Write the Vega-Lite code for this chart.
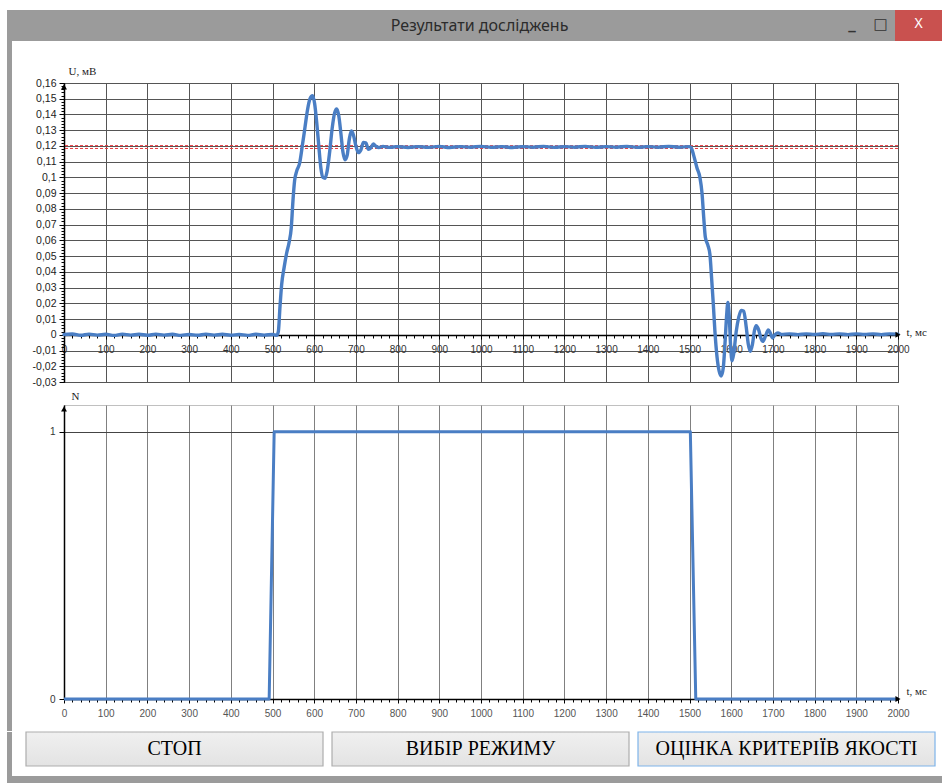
{
  "$schema": "https://vega.github.io/schema/vega-lite/v6.json",
  "padding": {"left": 7, "top": 10, "right": 0, "bottom": 0},
  "background": "white",
  "spacing": 0,
  "config": {"view": {"stroke": null}, "font": "Liberation Sans"},
  "datasets": {
    "sig": [
      {"t":0,"u":0.0002},{"t":20,"u":0.0005},{"t":40,"u":-0.0003},{"t":60,"u":0.0004},{"t":80,"u":-0.0002},
      {"t":100,"u":0.0003},{"t":120,"u":-0.0004},{"t":140,"u":0.0004},{"t":160,"u":-0.0002},{"t":180,"u":0.0003},
      {"t":200,"u":-0.0003},{"t":220,"u":0.0004},{"t":240,"u":-0.0002},{"t":260,"u":0.0003},{"t":280,"u":-0.0004},
      {"t":300,"u":0.0002},{"t":320,"u":-0.0003},{"t":340,"u":0.0004},{"t":360,"u":-0.0002},{"t":380,"u":0.0003},
      {"t":400,"u":-0.0003},{"t":420,"u":0.0002},{"t":440,"u":-0.0004},{"t":460,"u":0.0003},{"t":480,"u":-0.0002},
      {"t":500,"u":0.0002},{"t":510,"u":-0.0004},{"t":514,"u":0.002},{"t":518,"u":0.018},{"t":522,"u":0.032},
      {"t":528,"u":0.043},{"t":534,"u":0.052},{"t":540,"u":0.059},{"t":545,"u":0.068},{"t":549,"u":0.085},
      {"t":553,"u":0.098},{"t":558,"u":0.104},{"t":565,"u":0.109},{"t":572,"u":0.121},{"t":578,"u":0.132},
      {"t":584,"u":0.143},{"t":590,"u":0.150},{"t":596,"u":0.152},{"t":601,"u":0.147},{"t":606,"u":0.135},
      {"t":611,"u":0.120},{"t":616,"u":0.106},{"t":621,"u":0.100},{"t":626,"u":0.0995},{"t":631,"u":0.104},
      {"t":637,"u":0.116},{"t":643,"u":0.131},{"t":649,"u":0.141},{"t":654,"u":0.1435},{"t":659,"u":0.139},
      {"t":664,"u":0.128},{"t":669,"u":0.116},{"t":674,"u":0.1112},{"t":679,"u":0.114},{"t":684,"u":0.124},
      {"t":689,"u":0.1295},{"t":694,"u":0.127},{"t":700,"u":0.120},{"t":706,"u":0.1158},{"t":712,"u":0.1175},
      {"t":718,"u":0.1222},{"t":724,"u":0.122},{"t":730,"u":0.1178},{"t":736,"u":0.1188},{"t":742,"u":0.1212},
      {"t":748,"u":0.1198},{"t":755,"u":0.119},{"t":765,"u":0.1197},{"t":780,"u":0.1191},{"t":800,"u":0.1196},
      {"t":825,"u":0.1190},{"t":850,"u":0.1196},{"t":875,"u":0.1191},{"t":900,"u":0.1197},{"t":925,"u":0.1190},
      {"t":950,"u":0.1196},{"t":975,"u":0.1192},{"t":1000,"u":0.1197},{"t":1025,"u":0.1191},{"t":1050,"u":0.1196},
      {"t":1075,"u":0.1190},{"t":1100,"u":0.1196},{"t":1125,"u":0.1192},{"t":1150,"u":0.1197},{"t":1175,"u":0.1191},
      {"t":1200,"u":0.1196},{"t":1225,"u":0.1192},{"t":1250,"u":0.1197},{"t":1275,"u":0.1191},{"t":1300,"u":0.1196},
      {"t":1325,"u":0.1192},{"t":1350,"u":0.1197},{"t":1375,"u":0.1191},{"t":1400,"u":0.1196},{"t":1425,"u":0.1192},
      {"t":1450,"u":0.1197},{"t":1475,"u":0.1192},{"t":1500,"u":0.1196},{"t":1504,"u":0.119},{"t":1510,"u":0.114},
      {"t":1518,"u":0.106},{"t":1525,"u":0.100},{"t":1530,"u":0.090},{"t":1534,"u":0.075},{"t":1538,"u":0.062},
      {"t":1544,"u":0.057},{"t":1549,"u":0.051},{"t":1553,"u":0.036},{"t":1557,"u":0.020},{"t":1561,"u":0.002},
      {"t":1566,"u":-0.014},{"t":1571,"u":-0.023},{"t":1576,"u":-0.0262},{"t":1581,"u":-0.021},{"t":1585,"u":-0.006},
      {"t":1589,"u":0.012},{"t":1592,"u":0.0205},{"t":1595,"u":0.013},{"t":1599,"u":-0.009},{"t":1602,"u":-0.0165},
      {"t":1606,"u":-0.012},{"t":1612,"u":0.002},{"t":1618,"u":0.011},{"t":1624,"u":0.0155},{"t":1630,"u":0.015},
      {"t":1636,"u":0.005},{"t":1641,"u":-0.006},{"t":1646,"u":-0.0105},{"t":1651,"u":-0.006},{"t":1656,"u":0.003},
      {"t":1660,"u":0.0058},{"t":1666,"u":0.003},{"t":1671,"u":-0.002},{"t":1676,"u":-0.0042},{"t":1682,"u":-0.001},
      {"t":1689,"u":0.003},{"t":1694,"u":0.001},{"t":1699,"u":-0.002},{"t":1705,"u":0.0},{"t":1712,"u":0.0012},
      {"t":1720,"u":0.0002},{"t":1740,"u":0.0006},{"t":1760,"u":0.0001},{"t":1780,"u":0.0006},{"t":1800,"u":0.0002},
      {"t":1820,"u":0.0007},{"t":1840,"u":0.0002},{"t":1860,"u":0.0006},{"t":1880,"u":0.0001},{"t":1900,"u":0.0006},
      {"t":1920,"u":0.0002},{"t":1940,"u":0.0006},{"t":1960,"u":0.0001},{"t":1980,"u":0.0006},{"t":2000,"u":0.0004}
    ],
    "steps": [
      {"t":0,"n":0},{"t":492,"n":0},{"t":504,"n":1},{"t":1502,"n":1},{"t":1515,"n":0},{"t":2000,"n":0}
    ]
  },
  "vconcat": [
    {
      "spacing": 0,
      "hconcat": [
        {"width": 831, "height": 31, "view": {"fill": "#9b9b9b", "stroke": null},
         "data": {"values": [{"s": "Результати досліджень"}]},
         "mark": {"type": "text", "font": "Noto Sans", "fontSize": 16, "color": "#2b2b2b", "dx": 57},
         "encoding": {"text": {"field": "s"}}},
        {"width": 28, "height": 31, "view": {"fill": "#9b9b9b", "stroke": null},
         "data": {"values": [{"s": "_"}]},
         "mark": {"type": "text", "font": "DejaVu Sans", "fontSize": 15, "fontWeight": "bold", "color": "#333", "dy": -2},
         "encoding": {"text": {"field": "s"}}},
        {"width": 29, "height": 31, "view": {"fill": "#9b9b9b", "stroke": null},
         "data": {"values": [{"s": "□"}]},
         "mark": {"type": "text", "font": "DejaVu Sans", "fontSize": 15, "color": "#333", "dy": -2},
         "encoding": {"text": {"field": "s"}}},
        {"width": 47, "height": 31, "view": {"fill": "#c9514f", "stroke": null},
         "data": {"values": [{"s": "X"}]},
         "mark": {"type": "text", "font": "Noto Sans", "fontSize": 14, "color": "white", "dy": -2},
         "encoding": {"text": {"field": "s"}}}
      ]
    },
    {
      "spacing": 0,
      "hconcat": [
        {"width": 5, "height": 690, "view": {"fill": "#9b9b9b", "stroke": null},
         "data": {"values": []},
         "mark": {"type": "text"},
         "encoding": {"text": {"field": "s"}}},
        {
          "spacing": 0,
          "vconcat": [
            {"width": 1, "height": 1, "view": {"stroke": null},
             "data": {"values": []},
             "mark": {"type": "text"},
             "encoding": {"text": {"field": "s"}}},
            {
              "width": 834, "height": 299,
              "view": {"stroke": "#555", "strokeWidth": 1},
              "resolve": {"axis": {"x": "independent", "y": "independent"}},
              "layer": [
                {"data": {"values": [{"lvl": 0.1202}, {"lvl": 0.1184}]},
                 "mark": {"type": "rule", "color": "#e8383d", "strokeWidth": 1, "strokeDash": [3, 2]},
                 "encoding": {"y": {"field": "lvl", "type": "quantitative", "axis": null}}},
                {"data": {"name": "sig"},
                 "mark": {"type": "line", "color": "#4a7ec4", "strokeWidth": 3.4, "interpolate": "monotone", "strokeCap": "round", "strokeJoin": "round"},
                 "encoding": {
                   "x": {"field": "t", "type": "quantitative",
                         "scale": {"domain": [0, 2000], "nice": false, "zero": false},
                         "axis": {"orient": "bottom", "offset": -47, "tickCount": 20, "format": "d", "grid": true, "gridColor": "#555", "gridWidth": 1,
                                  "domainColor": "#000", "domainWidth": 1.5, "tickColor": "#000", "tickSize": 4, "labelPadding": 5,
                                  "labelFontSize": 10, "labelColor": "#333", "labelFlush": false, "labelOverlap": false,
                                  "title": "t, мс", "titleX": 842, "titleY": -3, "titleAlign": "left", "titleBaseline": "middle",
                                  "titleFont": "Liberation Serif", "titleFontSize": 11, "titleFontWeight": "normal", "titleColor": "#222"}},
                   "y": {"field": "u", "type": "quantitative",
                         "scale": {"domain": [-0.03, 0.16], "nice": false, "zero": false},
                         "axis": {"orient": "left", "tickCount": 19, "grid": true, "gridColor": "#555", "gridWidth": 1,
                                  "domainColor": "#000", "domainWidth": 1.5, "tickColor": "#000", "tickSize": 5, "labelPadding": 3,
                                  "labelFontSize": 10.5, "labelColor": "#222", "labelOverlap": false, "labelFlush": false,
                                  "labelExpr": "replace(replace(format(datum.value, '.2~f'), '.', ','), '−', '-')",
                                  "minExtent": 51, "maxExtent": 51,
                                  "title": "U, мВ", "titleAngle": 0, "titleX": 4, "titleY": -12, "titleAlign": "left", "titleBaseline": "middle",
                                  "titleFont": "Liberation Serif", "titleFontSize": 11, "titleFontWeight": "normal", "titleColor": "#222"}}
                 }},
                {"data": {"values": [{"t": 0, "u": 0.1575}]},
                 "mark": {"type": "point", "shape": "triangle-up", "filled": true, "color": "#000", "size": 35, "opacity": 1},
                 "encoding": {
                   "x": {"field": "t", "type": "quantitative",
                         "axis": {"orient": "bottom", "offset": -47, "tickCount": 100, "grid": false, "labels": false, "domain": false, "tickSize": 3, "tickColor": "#000", "title": null}},
                   "y": {"field": "u", "type": "quantitative",
                         "axis": {"orient": "left", "tickCount": 95, "grid": false, "labels": false, "domain": false, "tickSize": 3, "tickColor": "#000", "title": null}}
                 }},
                {"data": {"values": [{"t": 2000, "u": 0}]},
                 "mark": {"type": "point", "shape": "triangle-right", "filled": true, "color": "#000", "size": 35, "opacity": 1},
                 "encoding": {
                   "x": {"field": "t", "type": "quantitative",
                         "axis": {"orient": "top", "labels": false, "ticks": false, "domain": false, "grid": false, "title": null, "minExtent": 40, "maxExtent": 40}},
                   "y": {"field": "u", "type": "quantitative", "axis": null}
                 }}
              ]
            },
            {
              "width": 834, "height": 294,
              "view": {"stroke": "#c0c0c0", "strokeWidth": 1},
              "resolve": {"axis": {"x": "independent", "y": "independent"}},
              "layer": [
                {"data": {"name": "steps"},
                 "mark": {"type": "line", "color": "#4a7ec4", "strokeWidth": 3, "strokeJoin": "round"},
                 "encoding": {
                   "x": {"field": "t", "type": "quantitative",
                         "scale": {"domain": [0, 2000], "nice": false, "zero": false},
                         "axis": {"orient": "bottom", "tickCount": 20, "format": "d", "grid": true, "gridColor": "#808080", "gridWidth": 1,
                                  "domainColor": "#000", "domainWidth": 1.5, "tickColor": "#000", "tickSize": 4, "labelPadding": 5,
                                  "labelFontSize": 10, "labelColor": "#555", "labelFlush": false, "labelOverlap": false,
                                  "title": "t, мс", "titleX": 842, "titleY": -8, "titleAlign": "left", "titleBaseline": "middle",
                                  "titleFont": "Liberation Serif", "titleFontSize": 11, "titleFontWeight": "normal", "titleColor": "#222"}},
                   "y": {"field": "n", "type": "quantitative",
                         "scale": {"domain": [0, 1.1], "nice": false, "zero": false},
                         "axis": {"orient": "left", "values": [0, 1], "format": "d", "grid": true, "gridColor": "#444", "gridWidth": 1,
                                  "domainColor": "#000", "domainWidth": 1.5, "tickColor": "#000", "tickSize": 5, "labelPadding": 4,
                                  "labelFontSize": 10, "labelColor": "#333", "minExtent": 51, "maxExtent": 51,
                                  "title": "N", "titleAngle": 0, "titleX": 7, "titleY": -9, "titleAlign": "left", "titleBaseline": "middle",
                                  "titleFont": "Liberation Serif", "titleFontSize": 11, "titleFontWeight": "normal", "titleColor": "#222"}}
                 }},
                {"data": {"values": [{"t": 0, "n": 1.085}]},
                 "mark": {"type": "point", "shape": "triangle-up", "filled": true, "color": "#000", "size": 35, "opacity": 1},
                 "encoding": {
                   "x": {"field": "t", "type": "quantitative",
                         "axis": {"orient": "bottom", "tickCount": 100, "grid": false, "labels": false, "domain": false, "tickSize": 3, "tickColor": "#000", "title": null}},
                   "y": {"field": "n", "type": "quantitative", "axis": null}
                 }},
                {"data": {"values": [{"t": 2000, "n": 0}]},
                 "mark": {"type": "point", "shape": "triangle-right", "filled": true, "color": "#000", "size": 35, "opacity": 1},
                 "encoding": {
                   "x": {"field": "t", "type": "quantitative",
                         "axis": {"orient": "top", "labels": false, "ticks": false, "domain": false, "grid": false, "title": null, "minExtent": 16, "maxExtent": 16}},
                   "y": {"field": "n", "type": "quantitative", "axis": null}
                 }}
              ]
            }
          ]
        }
      ]
    },
    {
      "spacing": 0,
      "hconcat": [
        {"width": 5, "height": 44, "view": {"fill": "#9b9b9b", "stroke": null},
         "data": {"values": []},
         "mark": {"type": "text"},
         "encoding": {"text": {"field": "s"}}},
        {
          "width": 930, "height": 34,
          "view": {"stroke": null},
          "data": {"values": [{"label": "СТОП"}, {"label": "ВИБІР РЕЖИМУ"}, {"label": "ОЦІНКА КРИТЕРІЇВ ЯКОСТІ"}]},
          "encoding": {"x": {"field": "label", "type": "nominal", "sort": null, "axis": null,
                             "scale": {"paddingInner": 0.0294, "paddingOuter": 0.0343, "align": 0.667}}},
          "layer": [
            {"mark": {"type": "rect", "strokeWidth": 1.2,
                      "fill": {"gradient": "linear", "x1": 0, "y1": 0, "x2": 0, "y2": 1,
                               "stops": [{"offset": 0, "color": "#f0f0f0"}, {"offset": 1, "color": "#e3e3e3"}]}},
             "encoding": {"stroke": {"condition": {"test": "datum.label === 'ОЦІНКА КРИТЕРІЇВ ЯКОСТІ'", "value": "#7eb4ea"}, "value": "#adadad"}}},
            {"mark": {"type": "text", "font": "Liberation Serif", "fontSize": 20, "color": "#000"},
             "encoding": {"text": {"field": "label"}}}
          ]
        }
      ]
    },
    {"width": 935, "height": 8, "view": {"fill": "#9b9b9b", "stroke": null},
     "data": {"values": []},
     "mark": {"type": "text"},
     "encoding": {"text": {"field": "s"}}}
  ]
}
